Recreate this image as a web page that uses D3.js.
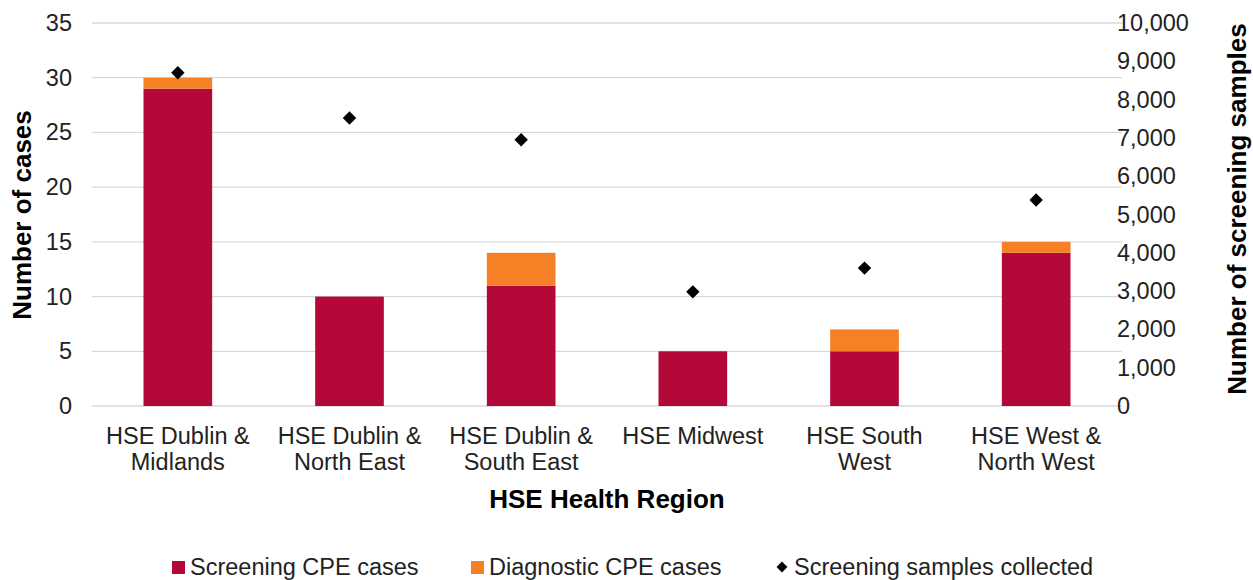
<!DOCTYPE html>
<html>
<head>
<meta charset="utf-8">
<script src="https://cdn.jsdelivr.net/npm/d3@7"></script>
<style>
  body { margin: 0; background: #fff; }
  text { font-family: "Liberation Sans", Arial, sans-serif; }
</style>
</head>
<body>
<div id="chart"></div>
<script>
// regions and values
const regions = [
  ["HSE Dublin &", "Midlands"],
  ["HSE Dublin &", "North East"],
  ["HSE Dublin &", "South East"],
  ["HSE Midwest"],
  ["HSE South", "West"],
  ["HSE West &", "North West"]
];
const screeningCases = [29, 10, 11, 5, 5, 14];
const diagnosticCases = [1, 0, 3, 0, 2, 1];
const samplesCollected = [8700, 7520, 6950, 2980, 3600, 5380];
const leftTicks = [0, 5, 10, 15, 20, 25, 30, 35];
const rightTicks = [0, 1000, 2000, 3000, 4000, 5000, 6000, 7000, 8000, 9000, 10000];

const red = "#b30838", orange = "#f58025";
const labelSize = 23.5, titleSize = 26;

const W = 1253, H = 580;
const margin = { top: 23, right: 131, bottom: 174, left: 92 };
const width = W - margin.left - margin.right,
      height = H - margin.top - margin.bottom;

const svg = d3.select("#chart").append("svg")
  .attr("width", W).attr("height", H);
const g = svg.append("g")
  .attr("transform", "translate(" + margin.left + "," + margin.top + ")");

const x = d3.scaleBand().domain(d3.range(regions.length)).range([0, width]).paddingInner(0.6).paddingOuter(0.3);
const yL = d3.scaleLinear().domain([0, 35]).range([height, 0]);
const yR = d3.scaleLinear().domain([0, 10000]).range([height, 0]);

// gridlines
g.selectAll("line.grid").data(leftTicks).join("line")
  .attr("x1", 0).attr("x2", width)
  .attr("y1", d => yL(d)).attr("y2", d => yL(d))
  .attr("stroke", "#d9d9d9").attr("stroke-width", 1.3);

// stacked bars
const stackData = regions.map((r, i) => ({ i, s: screeningCases[i], d: diagnosticCases[i] }));
const stack = d3.stack().keys(["s", "d"])(stackData);
const colors = [red, orange];
stack.forEach((layer, k) => {
  g.selectAll("rect.l" + k).data(layer).join("rect")
    .attr("x", d => x(d.data.i))
    .attr("width", x.bandwidth())
    .attr("y", d => yL(d[1]))
    .attr("height", d => yL(d[0]) - yL(d[1]))
    .attr("fill", colors[k]);
});

// diamonds
const diamond = d3.symbol().type(d3.symbolDiamond2).size(115);
g.selectAll("path.pt").data(samplesCollected).join("path")
  .attr("d", diamond)
  .attr("transform", (d, i) => "translate(" + (x(i) + x.bandwidth() / 2) + "," + yR(d) + ")")
  .attr("fill", "#000");

// left axis
const axL = g.append("g").call(d3.axisLeft(yL).tickValues(leftTicks).tickSize(0).tickPadding(20));
axL.select(".domain").remove();
axL.selectAll("text").attr("font-size", labelSize).attr("fill", "#222").attr("font-family", "Liberation Sans, Arial, sans-serif");

// right axis
const axR = g.append("g").attr("transform", "translate(" + width + ",0)")
  .call(d3.axisRight(yR).tickValues(rightTicks).tickSize(0).tickPadding(-5).tickFormat(d3.format(",")));
axR.select(".domain").remove();
axR.selectAll("text").attr("font-size", labelSize).attr("fill", "#222").attr("font-family", "Liberation Sans, Arial, sans-serif");

// x labels
const xl = g.append("g").attr("transform", "translate(0," + height + ")");
regions.forEach((lines, i) => {
  const t = xl.append("text").attr("text-anchor", "middle")
    .attr("font-size", labelSize).attr("fill", "#222")
    .attr("x", x(i) + x.bandwidth() / 2).attr("y", 38);
  lines.forEach((ln, j) => t.append("tspan").attr("x", x(i) + x.bandwidth() / 2).attr("dy", j ? 26 : 0).text(ln));
});

// axis titles
g.append("text").attr("x", width / 2).attr("y", height + 102)
  .attr("text-anchor", "middle").attr("font-size", titleSize).attr("font-weight", "bold")
  .text("HSE Health Region");
svg.append("text").attr("transform", "translate(31," + (margin.top + 192) + ") rotate(-90)")
  .attr("text-anchor", "middle").attr("font-size", titleSize).attr("font-weight", "bold")
  .text("Number of cases");
svg.append("text").attr("transform", "translate(1246," + (margin.top + 186) + ") rotate(-90)")
  .attr("text-anchor", "middle").attr("font-size", titleSize).attr("font-weight", "bold")
  .text("Number of screening samples");

// legend
const legend = svg.append("g").attr("transform", "translate(0,567)");
const items = [
  { label: "Screening CPE cases", x: 172, type: "rect", color: red },
  { label: "Diagnostic CPE cases", x: 471, type: "rect", color: orange },
  { label: "Screening samples collected", x: 776, type: "diamond", color: "#000" }
];
items.forEach(it => {
  if (it.type === "rect") {
    legend.append("rect").attr("x", it.x).attr("y", -6).attr("width", 13).attr("height", 13).attr("fill", it.color);
  } else {
    legend.append("path").attr("d", d3.symbol().type(d3.symbolDiamond2).size(75))
      .attr("transform", "translate(" + (it.x + 6) + ",0)").attr("fill", it.color);
  }
  legend.append("text").attr("x", it.x + 18).attr("y", 8)
    .attr("font-size", labelSize).attr("fill", "#222").text(it.label);
});
</script>
</body>
</html>
